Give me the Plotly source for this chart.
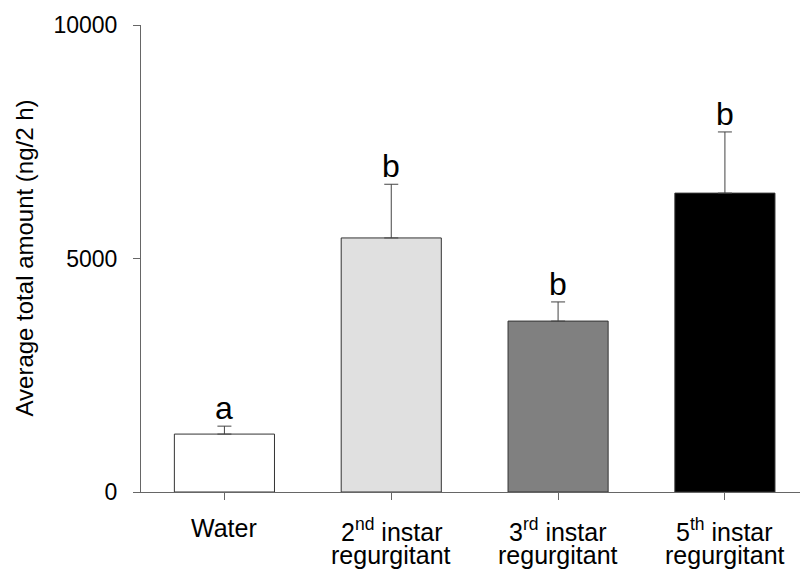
import plotly.graph_objects as go

# Data
categories = ["Water", "2nd instar regurgitant", "3rd instar regurgitant", "5th instar regurgitant"]
label_line1 = ["Water", "2<sup>nd</sup> instar", "3<sup>rd</sup> instar", "5<sup>th</sup> instar"]
label_line2 = ["", "regurgitant", "regurgitant", "regurgitant"]
means = [1240, 5440, 3660, 6400]
errors = [170, 1150, 410, 1310]
letters = ["a", "b", "b", "b"]
bar_colors = ["#ffffff", "#e0e0e0", "#808080", "#000000"]
ytick_vals = [0, 5000, 10000]
ytick_text = ["0", "5000", "10000"]

FONT = "Liberation Sans, Arial, sans-serif"
xpos = list(range(len(categories)))

fig = go.Figure()
fig.add_trace(go.Bar(
    x=xpos, y=means, width=0.6,
    marker=dict(color=bar_colors, line=dict(color="#333333", width=1)),
    error_y=dict(type="data", array=errors, arrayminus=[0] * len(errors),
                 symmetric=False, color="#444444", thickness=1, width=7),
    hoverinfo="skip",
))

annotations = []
for i in xpos:
    annotations.append(dict(x=i, y=means[i] + errors[i], xref="x", yref="y",
                            text=letters[i], showarrow=False, yanchor="bottom",
                            yshift=-2, font=dict(family=FONT, size=32, color="black")))
    annotations.append(dict(x=i, y=0, xref="x", yref="y", text=label_line1[i],
                            showarrow=False, yanchor="top", yshift=-20,
                            font=dict(family=FONT, size=25, color="black")))
    if label_line2[i]:
        annotations.append(dict(x=i, y=0, xref="x", yref="y", text=label_line2[i],
                                showarrow=False, yanchor="top", yshift=-47,
                                font=dict(family=FONT, size=25, color="black")))

annotations.append(dict(x=-0.1775, y=0.5, xref="paper", yref="paper",
                        text="Average total amount (ng/2 h)", textangle=-90,
                        showarrow=False, xanchor="center", yanchor="middle",
                        font=dict(family=FONT, size=24, color="black")))

fig.update_layout(
    width=800, height=572,
    margin=dict(l=141, r=0, t=25, b=80),
    plot_bgcolor="white", paper_bgcolor="white",
    showlegend=False,
    annotations=annotations,
    xaxis=dict(range=[-0.5, 3.45], tickvals=xpos,
               showticklabels=False, ticks="outside", ticklen=7, tickcolor="#666666",
               showline=True, linecolor="#666666", linewidth=1,
               showgrid=False, zeroline=False, fixedrange=True),
    yaxis=dict(range=[0, 10000], tickvals=ytick_vals, ticktext=ytick_text,
               ticks="outside", ticklen=7, tickcolor="#666666",
               showline=True, linecolor="#666666", linewidth=1,
               showgrid=False, zeroline=False, ticklabelstandoff=11,
               tickfont=dict(family=FONT, size=23, color="black"), fixedrange=True),
)

fig.write_html("out.html")
